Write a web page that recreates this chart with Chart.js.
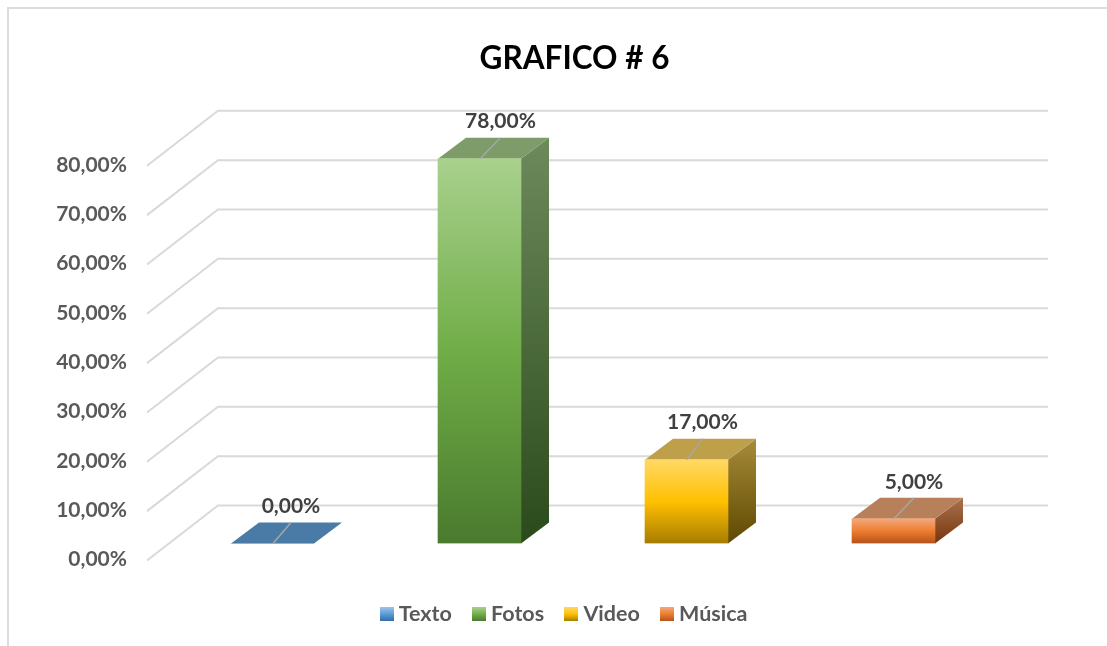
<!DOCTYPE html>
<html>
<head>
<meta charset="utf-8">
<title>GRAFICO # 6</title>
<script src="https://cdn.jsdelivr.net/npm/chart.js@4"></script>
<style>
    html, body { margin: 0; padding: 0; background: #fff; overflow: hidden; }
    #wrap { position: relative; width: 1107px; height: 646px; }
    #wrap::before { content: ''; position: absolute; left: 7px; top: 7px; right: 0; bottom: 0;
        border-left: 2px solid #dcdcdc; border-top: 2px solid #dcdcdc; }
    canvas { position: absolute; left: 0; top: 0; }
</style>
</head>
<body>
<div id="wrap"><canvas id="chart" width="1107" height="646"></canvas></div>
<script>
// --- Data ---
const categories = ['Texto', 'Fotos', 'Video', 'Música'];
const percentValues = [0, 78, 17, 5];
const tickLabels = ['0,00%', '10,00%', '20,00%', '30,00%', '40,00%', '50,00%', '60,00%', '70,00%', '80,00%'];
const valueLabels = ['0,00%', '78,00%', '17,00%', '5,00%'];

// --- Colours per category: front gradient, side gradient, top face ---
const frontStops = [
    ['#9dc3e6', '#5b9bd5', '#2e6da4'],
    ['#a9d18e', '#70ad47', '#4a7a2e'],
    ['#ffd966', '#ffc000', '#a67c00'],
    ['#f4a778', '#ed7d31', '#b4521a']
];
const sideStops = [
    ['#4a7ba6', '#2a5a85'],
    ['#6c8a5c', '#2b4a1b'],
    ['#a68c3a', '#5f4800'],
    ['#a8734e', '#77350c']
];
const topColors = ['#4a7ba6', '#7d9c69', '#bfa04a', '#b87f5b'];

const font = "Lato, Carlito, 'Open Sans', sans-serif";
const depth = { dx: 28, dy: 21 };       // bar depth
const wall = { dy: 38, frontLeft: 147, frontDy: 17, backLeft: 218, backRight: 1048 };
const labelShiftX = [18.5, 21, 16, 20.5];   // value labels are not evenly placed over the bars

function vGradient(ctx, y0, y1, stops) {
    const g = ctx.createLinearGradient(0, y0, 0, y1);
    stops.forEach((c, i) => g.addColorStop(i / (stops.length - 1), c));
    return g;
}

function legendSwatch(stops) {
    const c = document.createElement('canvas');
    c.width = 14;
    c.height = 14;
    const cx = c.getContext('2d');
    cx.fillStyle = vGradient(cx, 0, 14, stops);
    cx.fillRect(0, 0, 14, 14);
    return c;
}

// --- 3D look: back wall, floor lines, bar sides and tops, value labels ---
const wallPlugin = {
    id: 'wall3d',
    afterLayout(chart) {
        // title and legend are not centred on the canvas in the reference
        chart.titleBlock.left += 76;
        chart.titleBlock.right += 76;
        chart.legend.left += 68;
        chart.legend.right += 68;
        chart.legend.top -= 11;
    },
    beforeDatasetsDraw(chart) {
        const { ctx, scales: { y } } = chart;
        ctx.save();
        ctx.strokeStyle = '#d9d9d9';
        ctx.lineWidth = 2;
        y.ticks.forEach(t => {
            const py = y.getPixelForValue(t.value);
            ctx.beginPath();
            ctx.moveTo(wall.frontLeft, py + wall.frontDy);
            ctx.lineTo(wall.backLeft, py - wall.dy);
            ctx.lineTo(wall.backRight, py - wall.dy);
            ctx.stroke();
        });
        // sides and tops sit behind the native front faces
        chart.getDatasetMeta(0).data.forEach((bar, i) => {
            const left = bar.x - bar.width / 2;
            const right = bar.x + bar.width / 2;
            if (bar.base - bar.y > 0.5) {
                ctx.fillStyle = vGradient(ctx, bar.y - depth.dy, bar.base, sideStops[i]);
                ctx.beginPath();
                ctx.moveTo(right, bar.y);
                ctx.lineTo(right + depth.dx, bar.y - depth.dy);
                ctx.lineTo(right + depth.dx, bar.base - depth.dy);
                ctx.lineTo(right, bar.base);
                ctx.closePath();
                ctx.fill();
            }
            ctx.fillStyle = topColors[i];
            ctx.beginPath();
            ctx.moveTo(left, bar.y);
            ctx.lineTo(left + depth.dx, bar.y - depth.dy);
            ctx.lineTo(right + depth.dx, bar.y - depth.dy);
            ctx.lineTo(right, bar.y);
            ctx.closePath();
            ctx.fill();
        });
        ctx.restore();
    },
    afterDatasetsDraw(chart) {
        const { ctx } = chart;
        ctx.save();
        ctx.textAlign = 'center';
        ctx.textBaseline = 'middle';
        ctx.font = 'bold 21px ' + font;
        chart.getDatasetMeta(0).data.forEach((bar, i) => {
            // leader line from the front edge to the label
            ctx.strokeStyle = '#a6a6a6';
            ctx.lineWidth = 1.5;
            ctx.beginPath();
            ctx.moveTo(bar.x + 0.5, bar.y);
            ctx.lineTo(bar.x + labelShiftX[i], bar.y - depth.dy);
            ctx.stroke();
            ctx.fillStyle = '#404040';
            ctx.fillText(valueLabels[i], bar.x + labelShiftX[i], bar.y - 37);
        });
        ctx.restore();
    }
};

// --- Chart ---
const chartCtx = document.getElementById('chart').getContext('2d');

new Chart(chartCtx, {
    type: 'bar',
    plugins: [wallPlugin],
    data: {
        labels: categories,
        datasets: [{
            data: percentValues,
            barThickness: 83,
            borderWidth: 0,
            backgroundColor: (c) => {
                const y = c.chart.scales.y;
                const stops = frontStops[c.dataIndex];
                if (!c.chart.chartArea || !y) return stops[1];
                const top = y.getPixelForValue(percentValues[c.dataIndex]);
                const base = y.getPixelForValue(0);
                if (!isFinite(top) || !isFinite(base) || base - top < 1) return stops[1];
                return vGradient(c.chart.ctx, top, base, stops);
            }
        }]
    },
    options: {
        responsive: false,
        animation: false,
        layout: { padding: { left: 0, right: 110, top: 0, bottom: 0 } },
        plugins: {
            title: {
                display: true,
                text: 'GRAFICO # 6',
                color: '#000',
                font: { family: font, size: 31.5, weight: 'bold' },
                padding: { top: 40, bottom: 71 }
            },
            legend: {
                position: 'bottom',
                labels: {
                    color: '#595959',
                    font: { family: font, size: 21.5, weight: 'bold' },
                    usePointStyle: true,
                    pointStyleWidth: 2.5,
                    padding: 26,
                    boxHeight: 14,
                    generateLabels: () => categories.map((name, i) => ({
                        text: name,
                        pointStyle: legendSwatch(frontStops[i]),
                        fontColor: '#595959',
                        lineWidth: 0,
                        datasetIndex: 0,
                        index: i
                    }))
                }
            },
            tooltip: { enabled: false }
        },
        scales: {
            x: {
                display: true,
                grid: { display: false },
                border: { display: false },
                ticks: { display: false },
                afterFit: (s) => { s.height = 45; }
            },
            y: {
                min: 0,
                max: 80,
                grid: { display: false, drawTicks: false },
                border: { display: false },
                afterFit: (s) => { s.width = 169; },
                ticks: {
                    stepSize: 10,
                    padding: 42,
                    labelOffset: 16,
                    color: '#595959',
                    font: { family: font, size: 21, weight: 'bold' },
                    callback: (v) => tickLabels[v / 10]
                }
            }
        }
    }
});
</script>
</body>
</html>
